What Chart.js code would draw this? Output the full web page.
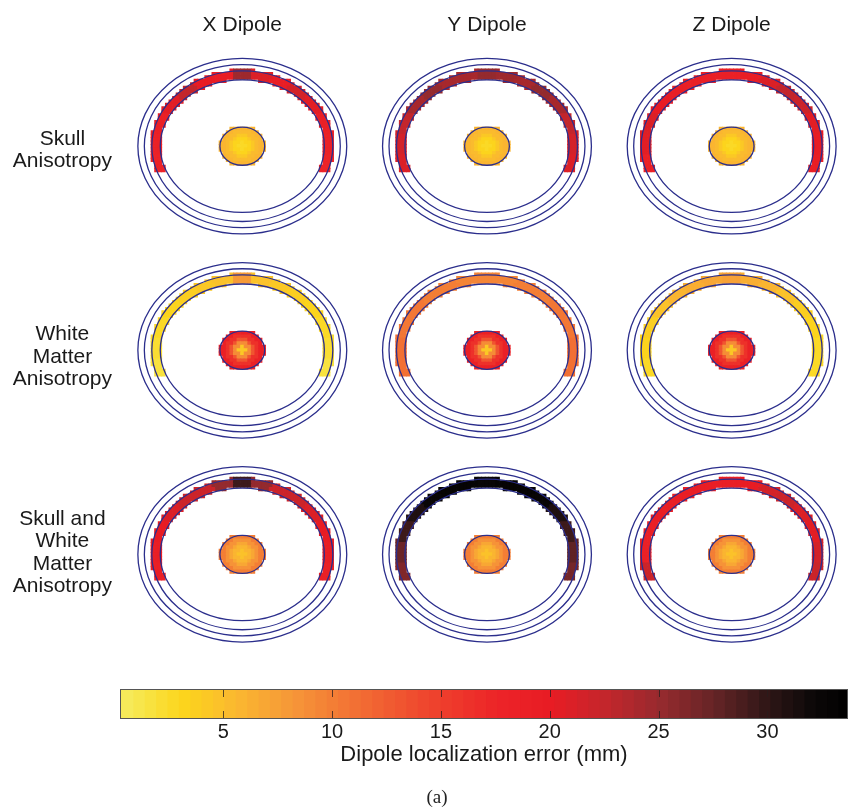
<!DOCTYPE html>
<html>
<head>
<meta charset="utf-8">
<script src="https://cdn.jsdelivr.net/npm/chart.js@4.4.1/dist/chart.umd.min.js"></script>
<style>
  html, body { margin: 0; padding: 0; background: #fff; }
  #wrap { position: relative; width: 856px; height: 812px; }
  #heads { position: absolute; left: 0; top: 0; }
  #bar { position: absolute; left: 0; top: 680px; }
</style>
</head>
<body>
<div id="wrap">
  <canvas id="heads" width="856" height="680"></canvas>
  <canvas id="bar" width="856" height="132"></canvas>
</div>
<script>
const dipoles = ['X Dipole', 'Y Dipole', 'Z Dipole'];
const conditions = [
  ['Skull', 'Anisotropy'],
  ['White', 'Matter', 'Anisotropy'],
  ['Skull and', 'White', 'Matter', 'Anisotropy']
];

// localization error along the cortical band, left end -> top -> right end (mm)
const skullX = [18, 18.5, 19, 20.5, 22.5, 20, 19.5, 24.5, 21, 19.5, 21.5, 20.5, 19, 18.5, 18];
const skullY = [21, 21.5, 22.5, 24, 25, 24, 24, 25, 24.5, 24, 25, 24, 22.5, 21.5, 21];
const skullZ = [19, 20.5, 21, 20, 19.5, 19, 19, 19, 19.5, 21, 22.5, 22, 20.5, 20, 19.5];
const wmX = [1.5, 2, 2.5, 3, 3.5, 4, 4.5, 8, 4.5, 4, 3.5, 3, 2.5, 2, 1.5];
const wmY = [11, 11, 10.5, 10.5, 10, 10, 9.5, 9.5, 9.5, 10, 10, 10.5, 10.5, 11, 11];
const wmZ = [2.5, 3, 3.5, 4.5, 5.5, 6.5, 7, 7.5, 6.5, 5.5, 4.5, 3.5, 3, 2.5, 2.5];
const bothX = [19, 19.5, 20, 21, 22, 22, 25, 29, 25, 22, 22, 21, 20, 19.5, 19];
const bothY = [26, 27, 29, 31, 32.5, 33, 33, 32.5, 33, 33, 32.5, 31, 29, 27.5, 26.5];
const bothZ = [22, 19, 19, 19.5, 19.5, 19.5, 19.5, 19.5, 20, 21.5, 22, 21, 20.5, 21.5, 22];

// error in the deep source region, centre -> rim (mm)
const skullCore = [2.5, 3, 4, 5, 6];
const wmCore = [4, 9, 13, 16, 19];
const bothCore = [4.5, 5.5, 7, 8.5, 10];

const errTicks = [5, 10, 15, 20, 25, 30];
const errMin = 0.26, errMax = 33.7;

const bands = [[skullX, skullY, skullZ], [wmX, wmY, wmZ], [bothX, bothY, bothZ]];
const cores = [skullCore, wmCore, bothCore];

// head model geometry (mm)
const COL = 246, ROW = 214;
const shells = [[105, 92], [98.5, 85.5], [91, 79], [82.5, 69.5]];
const coreR = [22.5, 20];
const bandCut = 26;   // band stops this far below the centre
const VOX = 3.6;

// colour map, yellow -> red -> black
const cmap = [
  [0.26, [245, 236, 95]], [3, [252, 214, 28]], [5.5, [250, 184, 48]],
  [8, [246, 152, 56]], [11, [242, 112, 52]], [14, [239, 72, 46]],
  [17.5, [236, 36, 40]], [20, [232, 28, 36]], [22.5, [195, 38, 44]],
  [25, [150, 42, 46]], [27.5, [100, 36, 38]], [30, [45, 22, 22]],
  [32, [12, 8, 8]], [33.7, [0, 0, 0]]
];
const LEVELS = 64;

function errColor(v) {
  const lvl = Math.min(LEVELS - 1, Math.max(0, Math.floor((v - errMin) / (errMax - errMin) * LEVELS)));
  const q = errMin + (lvl + 0.5) * (errMax - errMin) / LEVELS;
  let k = 0;
  while (k < cmap.length - 2 && q > cmap[k + 1][0]) k++;
  const [v0, c0] = cmap[k], [v1, c1] = cmap[k + 1];
  const t = Math.min(1, Math.max(0, (q - v0) / (v1 - v0)));
  const c = c0.map((a, i) => Math.round(a + (c1[i] - a) * t));
  return `rgb(${c[0]},${c[1]},${c[2]})`;
}

// voxels of one band, coloured by the arc segment they fall in
function bandVoxels(r, c) {
  const vals = bands[r][c], n = vals.length;
  const [ao, bo] = shells[2], [ai, bi] = shells[3];
  const pts = [], cols = [];
  const nx = Math.ceil(ao / VOX), ny = Math.ceil(bo / VOX);
  for (let j = -ny; j <= ny; j++) {
    for (let i = -nx; i <= nx; i++) {
      const dx = i * VOX, dy = j * VOX;
      if (dy > bandCut) continue;
      if ((dx / ao) ** 2 + (dy / bo) ** 2 > 1.02) continue;
      if ((dx / ai) ** 2 + (dy / bi) ** 2 < 1) continue;
      let th = Math.atan2(-dy, dx) * 180 / Math.PI;
      if (th < -90) th += 360;
      const k = Math.min(n - 1, Math.max(0, Math.floor((200 - th) / 220 * n)));
      pts.push({ x: c * COL + dx, y: r * ROW + dy });
      cols.push(errColor(vals[k]));
    }
  }
  return { pts, cols };
}

function coreVoxels(r, c) {
  const vals = cores[r], n = vals.length;
  const [a, b] = coreR;
  const pts = [], cols = [];
  const nx = Math.ceil(a / VOX), ny = Math.ceil(b / VOX);
  for (let j = -ny; j <= ny; j++) {
    for (let i = -nx; i <= nx; i++) {
      const dx = i * VOX, dy = j * VOX;
      const rr = Math.sqrt((dx / a) ** 2 + (dy / b) ** 2);
      if (rr > 1.02) continue;
      const k = Math.min(n - 1, Math.floor(rr * n));
      pts.push({ x: c * COL + dx, y: r * ROW + dy });
      cols.push(errColor(vals[k]));
    }
  }
  return { pts, cols };
}

const datasets = [];
for (let r = 0; r < 3; r++) {
  for (let c = 0; c < 3; c++) {
    [bandVoxels(r, c), coreVoxels(r, c)].forEach(v => {
      datasets.push({
        data: v.pts,
        pointStyle: 'rect',
        pointRadius: (VOX + 0.7) / Math.SQRT2,
        pointBackgroundColor: v.cols,
        pointBorderWidth: 0
      });
    });
  }
}

const shellPlugin = {
  id: 'shells',
  afterDatasetsDraw(chart) {
    const { ctx, scales: { x, y } } = chart;
    const kx = Math.abs(x.getPixelForValue(1) - x.getPixelForValue(0));
    const ky = Math.abs(y.getPixelForValue(1) - y.getPixelForValue(0));
    ctx.save();
    ctx.strokeStyle = '#2b2e8c';
    ctx.lineWidth = 1.3;
    for (let r = 0; r < 3; r++) {
      for (let c = 0; c < 3; c++) {
        const px = x.getPixelForValue(c * COL), py = y.getPixelForValue(r * ROW);
        [...shells, coreR].forEach(([a, b]) => {
          ctx.beginPath();
          ctx.ellipse(px, py, a * kx, b * ky, 0, 0, 2 * Math.PI);
          ctx.stroke();
        });
      }
    }
    ctx.restore();
  }
};

const labelFont = { family: '"Liberation Sans", Arial, sans-serif', size: 21, lineHeight: 1.07 };
const rowNudge = [4, 7, -2];

new Chart(document.getElementById('heads'), {
  type: 'scatter',
  data: { datasets },
  options: {
    responsive: false,
    animation: false,
    events: [],
    plugins: { legend: { display: false }, tooltip: { enabled: false } },
    scales: {
      x: {
        type: 'linear', position: 'top', min: -128, max: 613,
        afterBuildTicks: s => { s.ticks = dipoles.map((d, i) => ({ value: i * COL })); },
        afterFit: s => { s.height = 44; },
        grid: { display: false, drawTicks: false },
        border: { display: false },
        ticks: {
          autoSkip: false, maxRotation: 0, padding: 10, color: '#1a1a1a',
          font: { family: labelFont.family, size: 21 },
          callback: (v, i) => dipoles[i]
        }
      },
      y: {
        type: 'linear', position: 'left', reverse: true, min: -103, max: 533,
        afterBuildTicks: s => { s.ticks = conditions.map((d, i) => ({ value: i * ROW + rowNudge[i] })); },
        afterFit: s => { s.width = 115; },
        grid: { display: false, drawTicks: false },
        border: { display: false },
        ticks: {
          autoSkip: false, padding: 3, crossAlign: 'center', color: '#1a1a1a',
          font: labelFont,
          callback: (v, i) => conditions[i]
        }
      }
    }
  },
  plugins: [shellPlugin]
});

// colour bar
const binW = (errMax - errMin) / LEVELS;
const barSets = [];
for (let i = 0; i < LEVELS; i++) {
  const lo = errMin + i * binW;
  barSets.push({
    data: [[lo, lo + binW * 1.15]],
    backgroundColor: errColor(lo + binW / 2),
    borderWidth: 0,
    grouped: false,
    barPercentage: 1,
    categoryPercentage: 1
  });
}

const barFrame = {
  id: 'barFrame',
  afterDatasetsDraw(chart) {
    const { ctx, chartArea: a, scales: { x } } = chart;
    ctx.save();
    ctx.strokeStyle = 'rgba(40,30,30,0.75)';
    ctx.lineWidth = 1;
    errTicks.forEach(v => {
      const px = Math.round(x.getPixelForValue(v)) + 0.5;
      ctx.beginPath();
      ctx.moveTo(px, a.top); ctx.lineTo(px, a.top + 8);
      ctx.moveTo(px, a.bottom); ctx.lineTo(px, a.bottom - 8);
      ctx.stroke();
    });
    ctx.strokeStyle = '#555';
    ctx.strokeRect(a.left + 0.5, a.top + 0.5, a.right - a.left - 1, a.bottom - a.top - 1);
    ctx.fillStyle = '#222';
    ctx.font = '19px "Liberation Serif", "DejaVu Serif", serif';
    ctx.textAlign = 'center';
    ctx.textBaseline = 'middle';
    ctx.fillText('(a)', 437, 118);
    ctx.restore();
  }
};

new Chart(document.getElementById('bar'), {
  type: 'bar',
  data: { labels: [''], datasets: barSets },
  options: {
    indexAxis: 'y',
    responsive: false,
    animation: false,
    events: [],
    layout: { padding: { top: 9, left: 120, right: 8, bottom: 43 } },
    plugins: { legend: { display: false }, tooltip: { enabled: false } },
    scales: {
      x: {
        type: 'linear', min: errMin, max: errMax,
        afterBuildTicks: s => { s.ticks = errTicks.map(v => ({ value: v })); },
        afterFit: s => { s.height = 50; },
        grid: { display: false, drawTicks: false },
        border: { display: false },
        ticks: { padding: 1, color: '#1a1a1a', font: { family: labelFont.family, size: 20 } },
        title: {
          display: true, text: 'Dipole localization error (mm)', color: '#1a1a1a',
          font: { family: labelFont.family, size: 22 }, padding: { top: 0, bottom: 1 }
        }
      },
      y: { display: false }
    }
  },
  plugins: [barFrame]
});
</script>
</body>
</html>
